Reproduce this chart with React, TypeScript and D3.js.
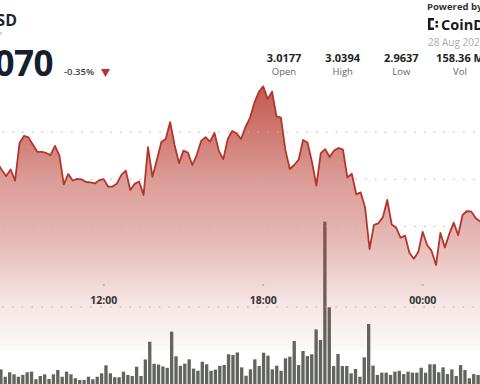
import React from "react";
import * as d3 from "d3";

// ---- data ----
const START = new Date(2025, 7, 27, 8, 0);
const STEP_MIN = 10;

const prices = [
  3.0069, 3.004, 3.0014, 3.0042, 2.9995, 3.0154, 3.0184, 3.0178, 3.0148, 3.0117,
  3.0117, 3.0112, 3.0103, 3.0142, 3.0101, 2.9979, 3.0023, 2.9995, 3.0002, 3.0,
  2.9989, 2.9987, 2.9983, 2.9997, 3.0001, 2.9969, 2.997, 2.9983, 3.0019, 3.0037,
  2.9955, 2.9981, 2.9991, 2.9934, 3.0137, 3.0011, 3.0082, 3.0158, 3.0171, 3.0243,
  3.0146, 3.0069, 3.0122, 3.0114, 3.0061, 3.0103, 3.0163, 3.0179, 3.016, 3.0197,
  3.012, 3.0086, 3.0171, 3.0205, 3.0195, 3.0171, 3.0222, 3.026, 3.0324, 3.037,
  3.0394, 3.0341, 3.0372, 3.0267, 3.0262, 3.0125, 3.0044, 3.0061, 3.0084, 3.0167,
  3.0156, 3.0075, 2.9974, 3.0111, 3.0128, 3.0095, 3.0122, 3.0133, 3.0126, 3.0008,
  3.0024, 2.9937, 2.9945, 2.9881, 2.9705, 2.9807, 2.9814, 2.9839, 2.9913, 2.9809,
  2.9796, 2.9753, 2.9762, 2.9689, 2.9664, 2.9692, 2.9778, 2.9722, 2.9697, 2.9637,
  2.9773, 2.9712, 2.9769, 2.9817, 2.9764, 2.9849, 2.9866, 2.9863, 2.9835, 2.9821,
];

const volumes = [
  1.31, 0.73, 1.08, 0.92, 0.73, 0.87, 1.08, 1.13, 0.53, 0.79,
  0.92, 0.55, 0.92, 1.26, 0.73, 1.13, 0.92, 0.61, 0.47, 0.47,
  0.73, 0.53, 0.73, 1.0, 1.63, 1.0, 0.69, 0.69, 1.13, 0.87,
  0.79, 1.52, 0.79, 2.09, 3.49, 1.75, 1.69, 1.54, 1.43, 4.28,
  2.34, 1.59, 1.76, 2.1, 1.37, 1.2, 1.91, 1.71, 1.2, 1.29,
  1.59, 1.65, 2.5, 2.44, 2.64, 1.47, 0.81, 1.31, 2.1, 1.57,
  2.62, 2.39, 1.31, 1.6, 1.2, 2.18, 2.31, 3.54, 1.65, 2.76,
  2.36, 2.5, 4.46, 3.62, 12.94, 6.2, 1.57, 2.52, 1.57, 1.57,
  1.0, 1.34, 0.73, 2.26, 4.88, 1.6, 0.87, 1.05, 1.05, 0.87,
  1.13, 1.2, 0.94, 1.13, 1.05, 1.05, 1.44, 1.05, 1.71, 1.71,
  1.08, 1.47, 0.94, 1.31, 0.79, 1.65, 1.26, 0.61, 0.94, 0.87,
];

const gridValues = [3.02, 3.0, 2.98];
const tickTimes = [
  new Date(2025, 7, 27, 12, 0),
  new Date(2025, 7, 27, 18, 0),
  new Date(2025, 7, 28, 0, 0),
];
const statValues = ["3.0177", "3.0394", "2.9637", "158.36 M"];
const statLabels = ["Open", "High", "Low", "Vol"];
const pairLabel = "XRP/USD";
const subLabel = "XRP";
const lastPrice = "3.0070";
const changeLabel = "-0.35%";
const dateLabel = "28 Aug 2025";

const FONT = "'Open Sans', 'Noto Sans', sans-serif";

export default function App() {
  const W = 480;
  const H = 384;

  const times = prices.map((_, i) => d3.timeMinute.offset(START, i * STEP_MIN));
  const x = d3
    .scaleTime()
    .domain([tickTimes[1], tickTimes[2]])
    .range([263.2, 422.7]);
  const y = d3.scaleLinear().domain([2.98, 3.02]).range([226.6, 132.2]);
  const areaBase = 350;

  const vx = d3
    .scaleBand<number>()
    .domain(d3.range(volumes.length))
    .range([-1.29, 480.3])
    .paddingInner(0.24)
    .paddingOuter(0.12);
  const vy = d3.scaleLinear().domain([0, 13]).range([386, 220.9]);

  const pts = prices.map((p, i) => [times[i], p] as [Date, number]);
  const line = d3
    .line<[Date, number]>()
    .x((d) => x(d[0]))
    .y((d) => y(d[1]))
    .curve(d3.curveLinear);
  const area = d3
    .area<[Date, number]>()
    .x((d) => x(d[0]))
    .y0(areaBase)
    .y1((d) => y(d[1]))
    .curve(d3.curveLinear);

  const fmt = d3.timeFormat("%H:%M");
  const statX = d3.scalePoint<string>().domain(statLabels).range([284, 460]);

  return (
    <div style={{ position: "fixed", left: 0, top: 0, width: W, height: H, background: "#fff" }}>
      <svg width={W} height={H} style={{ display: "block", fontFamily: FONT }}>
        <defs>
          <linearGradient id="areaGrad" gradientUnits="userSpaceOnUse" x1="0" y1="85" x2="0" y2={areaBase}>
            <stop offset="0" stopColor="#b83a30" stopOpacity="0.85" />
            <stop offset="0.36" stopColor="#b83a30" stopOpacity="0.5" />
            <stop offset="0.58" stopColor="#b83a30" stopOpacity="0.36" />
            <stop offset="0.81" stopColor="#b83a30" stopOpacity="0.14" />
            <stop offset="1" stopColor="#b83a30" stopOpacity="0.03" />
          </linearGradient>
        </defs>
        <rect x={0} y={0} width={W} height={H} fill="#fff" />

        {/* volume bars */}
        <g>
          {volumes.map((v, k) => (
            <rect
              key={k}
              x={vx(k)}
              y={vy(v)}
              width={vx.bandwidth()}
              height={vy(0) - vy(v)}
              fill="#62645f"
            />
          ))}
        </g>

        {/* price area */}
        <path d={area(pts) || ""} fill="url(#areaGrad)" />

        {/* grid lines */}
        <g>
          {gridValues.map((g) => (
            <line
              key={g}
              x1={0}
              x2={W}
              y1={y(g)}
              y2={y(g)}
              stroke="#b5b5b5"
              strokeWidth={1}
              strokeDasharray="1.6 8.2"
              strokeDashoffset={-2.5}
            />
          ))}
          <line
            x1={0}
            x2={W}
            y1={307}
            y2={307}
            stroke="#b5b5b5"
            strokeWidth={1}
            strokeDasharray="1.6 8.2"
            strokeDashoffset={-2}
          />
        </g>

        {/* price line */}
        <path d={line(pts) || ""} fill="none" stroke="#b3362b" strokeWidth={1.8} strokeLinejoin="round" />

        {/* time axis */}
        <g>
          {tickTimes.map((t) => (
            <g key={t.getTime()} transform={`translate(${x(t)},0)`}>
              <line x1={-1} x2={1} y1={285} y2={285} stroke="#999" strokeWidth={1} />
              <text y={304} textAnchor="middle" fontSize={10.5} fontWeight={700} fill="#333">
                {fmt(t)}
              </text>
            </g>
          ))}
        </g>

        {/* header left */}
        <text x={17} y={25.5} textAnchor="end" fontSize={16} fontWeight={700} fill="#1d2633">
          {pairLabel}
        </text>
        <text x={2} y={36.5} textAnchor="end" fontSize={7} fill="#999">
          {subLabel}
        </text>
        <text x={53} y={76} textAnchor="end" fontSize={35} fontWeight={700} fill="#15202e" letterSpacing={-0.5}>
          {lastPrice}
        </text>
        <text x={64} y={75} fontSize={9.5} fontWeight={600} fill="#444">
          {changeLabel}
        </text>
        <path d="M101,69 L110,69 L105.5,77 Z" fill="#c0302a" />

        {/* header right */}
        <text x={427} y={9.5} fontSize={9.5} fontWeight={700} fill="#333">
          Powered by
        </text>
        <g fill="#1a1a1a">
          <rect x={428} y={18} width={2.5} height={12} />
          <rect x={428} y={18} width={6} height={2.5} />
          <rect x={428} y={27.5} width={6} height={2.5} />
          <rect x={435.5} y={21} width={2.5} height={2.5} />
          <rect x={435.5} y={25} width={2.5} height={2.5} />
        </g>
        <text x={441} y={29.5} fontSize={14.5} fontWeight={700} fill="#1a1a1a">
          CoinDesk
        </text>
        <text x={428} y={46} fontSize={10} fill="#aaa">
          {dateLabel}
        </text>

        {statLabels.map((lab, i) => (
          <g key={lab} transform={`translate(${statX(lab)},0)`}>
            <text y={61.5} textAnchor="middle" fontSize={11} fontWeight={700} fill="#222">
              {statValues[i]}
            </text>
            <text y={74.5} textAnchor="middle" fontSize={9.5} fill="#666">
              {lab}
            </text>
          </g>
        ))}
      </svg>
    </div>
  );
}
